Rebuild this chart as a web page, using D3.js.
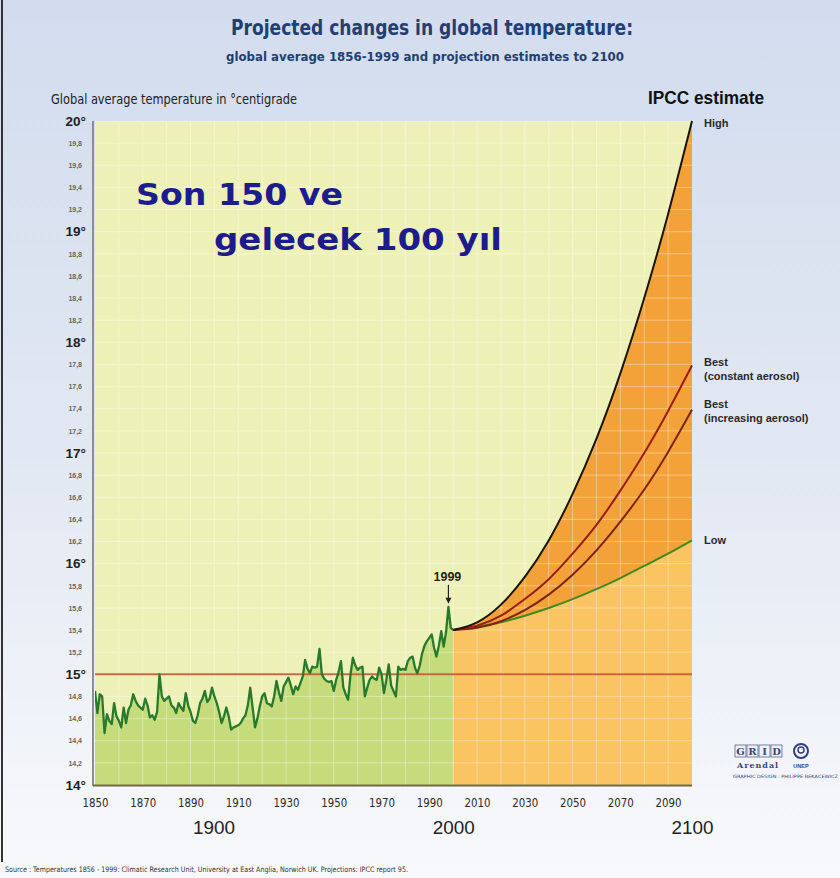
<!DOCTYPE html>
<html><head><meta charset="utf-8">
<script src="https://cdn.jsdelivr.net/npm/d3@7"></script>
<style>html,body{margin:0;padding:0;background:#fff}svg{display:block}</style>
</head><body><div id="chart"></div>
<script>
// ---------- DATA ----------
const histYears = d3.range(1850, 2000);
const histTemps = [
 14.85,14.65,14.82,14.80,14.47,14.64,14.58,14.55,14.74,14.62,
 14.58,14.52,14.70,14.56,14.68,14.72,14.82,14.76,14.72,14.70,
 14.68,14.78,14.72,14.61,14.63,14.59,14.66,15.00,14.80,14.76,
 14.78,14.80,14.72,14.70,14.65,14.74,14.70,14.67,14.83,14.72,
 14.66,14.58,14.56,14.63,14.74,14.78,14.85,14.75,14.78,14.88,
 14.80,14.74,14.66,14.56,14.62,14.70,14.62,14.50,14.52,14.53,
 14.54,14.56,14.60,14.63,14.72,14.88,14.70,14.52,14.60,14.71,
 14.80,14.83,14.74,14.73,14.71,14.80,14.94,14.84,14.76,14.89,
 14.93,14.97,14.90,14.82,14.89,14.86,14.92,14.98,15.13,15.05,
 15.01,15.07,15.06,15.07,15.23,15.00,14.96,14.94,14.93,14.94,
 14.85,14.95,15.02,15.12,14.88,14.82,14.77,15.00,15.15,15.08,
 15.04,15.06,15.07,14.80,14.88,14.95,14.98,14.96,14.95,15.06,
 15.00,14.83,14.95,15.09,14.90,14.85,14.80,15.07,15.04,15.05,
 15.04,15.12,15.15,15.16,15.06,15.01,15.08,15.19,15.26,15.30,
 15.33,15.36,15.24,15.16,15.26,15.39,15.25,15.38,15.61,15.42
];
const projYears          = [2000, 2010, 2020, 2030, 2040, 2050, 2060, 2070, 2080, 2090, 2100];
const projHigh           = [15.40,15.47,15.63,15.88,16.21,16.63,17.13,17.72,18.40,19.16,20.00];
const projBestConstant   = [15.40,15.44,15.53,15.68,15.86,16.09,16.35,16.66,17.00,17.38,17.79];
const projBestIncreasing = [15.40,15.42,15.48,15.58,15.72,15.90,16.12,16.38,16.67,17.01,17.39];
const projLow            = [15.40,15.43,15.47,15.53,15.60,15.68,15.77,15.87,15.98,16.09,16.21];
const baselineTemp = 15;
const peakYear = 1998, peakLabel = "1999";

const xTickYears = [1850,1870,1890,1910,1930,1950,1970,1990,2010,2030,2050,2070,2090];
const xCenturyLabels = [1900, 2000, 2100];
const yMajorTicks = [14, 15, 16, 17, 18, 19, 20];
const yMinorTicks = [14.2,14.4,14.6,14.8,15.2,15.4,15.6,15.8,16.2,16.4,16.6,16.8,
                     17.2,17.4,17.6,17.8,18.2,18.4,18.6,18.8,19.2,19.4,19.6,19.8];
const gridYears = [1860,1870,1880,1890,1900,1910,1920,1930,1940,1950,1960,1970,1980,1990,
                   2000,2010,2020,2030,2040,2050,2060,2070,2080,2090];
const scenarioLabels = [
  {name:"High", lines:["High"]},
  {name:"BestC", lines:["Best","(constant aerosol)"]},
  {name:"BestI", lines:["Best","(increasing aerosol)"]},
  {name:"Low", lines:["Low"]}
];

// ---------- SETUP ----------
const W = 840, H = 878;
const svg = d3.select("#chart").append("svg").attr("width", W).attr("height", H);
const defs = svg.append("defs");
const bg = defs.append("linearGradient").attr("id","bg").attr("x1",0).attr("y1",0).attr("x2",0).attr("y2",1);
bg.append("stop").attr("offset","0%").attr("stop-color","#d2dcee");
bg.append("stop").attr("offset","55%").attr("stop-color","#e3e9f3");
bg.append("stop").attr("offset","100%").attr("stop-color","#f8f9fc");
svg.append("rect").attr("width",W).attr("height",H).attr("fill","url(#bg)");
svg.append("line").attr("x1",2).attr("x2",2).attr("y1",0).attr("y2",862).attr("stroke","#333").attr("stroke-width",2);

const x = d3.scaleLinear().domain([1850, 2100]).range([95, 692]);
const y = d3.scaleLinear().domain([14, 20]).range([785, 121]);

const narrow = "'Liberation Sans Narrow','DejaVu Sans Condensed','Roboto Condensed','Arial Narrow','Liberation Sans',sans-serif";
const sans = "'Liberation Sans','DejaVu Sans',Arial,sans-serif";

defs.append("clipPath").attr("id","plotclip").append("rect")
  .attr("x", x(1850)).attr("y", y(20)).attr("width", x(2100)-x(1850)).attr("height", y(14)-y(20));

const plot = svg.append("g").attr("clip-path","url(#plotclip)");

// background yellow
plot.append("rect").attr("x", x(1850)).attr("y", y(20)).attr("width", x(2100)-x(1850)).attr("height", y(14)-y(20)).attr("fill","#eef1b7");

const hist = histYears.map((yr,i)=>({year:yr, t:histTemps[i]}));
hist.push({year:projYears[0], t:projHigh[0]});

// green area under historical
plot.append("path").datum(hist)
  .attr("d", d3.area().x(d=>x(d.year)).y0(y(14)).y1(d=>y(d.t)))
  .attr("fill","#c6dc7c");

// projections
const curveType = d3.curveNatural;
const mk = arr => projYears.map((yr,i)=>({year:yr, t:arr[i]}));
const band = projYears.map((yr,i)=>({year:yr, lo:projLow[i], hi:projHigh[i]}));
plot.append("path").datum(band)
  .attr("d", d3.area().curve(curveType).x(d=>x(d.year)).y0(y(14)).y1(d=>y(d.lo)))
  .attr("fill","#fbc462");
plot.append("path").datum(band)
  .attr("d", d3.area().curve(curveType).x(d=>x(d.year)).y0(d=>y(d.lo)).y1(d=>y(d.hi)))
  .attr("fill","#f3a23a");

// grid
const grid = plot.append("g").attr("stroke","#ffffff").attr("stroke-opacity",0.35).attr("stroke-width",1);
grid.selectAll("line.v").data(gridYears).join("line")
  .attr("x1",d=>x(d)).attr("x2",d=>x(d)).attr("y1",y(20)).attr("y2",y(14));
grid.selectAll("line.h").data(yMinorTicks.concat(yMajorTicks)).join("line")
  .attr("x1",x(1850)).attr("x2",x(2100)).attr("y1",d=>y(d)).attr("y2",d=>y(d));

// 15 degree line
plot.append("line").attr("x1",x(1850)).attr("x2",x(2100)).attr("y1",y(baselineTemp)).attr("y2",y(baselineTemp))
  .attr("stroke","#c9573b").attr("stroke-width",2).attr("stroke-opacity",0.9);

// projection curves
const lineGen = d3.line().curve(curveType).x(d=>x(d.year)).y(d=>y(d.t));
const curves = [
  {data:projLow, color:"#3f8a1e"},
  {data:projBestIncreasing, color:"#7c2410"},
  {data:projBestConstant, color:"#9a1c14"},
  {data:projHigh, color:"#1a1410"}
];
curves.forEach(c=>{
  svg.append("path").datum(mk(c.data)).attr("d", lineGen)
    .attr("fill","none").attr("stroke",c.color).attr("stroke-width",2);
});

// historical line
plot.append("path").datum(hist)
  .attr("d", d3.line().x(d=>x(d.year)).y(d=>y(d.t)))
  .attr("fill","none").attr("stroke","#277a2b").attr("stroke-width",2.3).attr("stroke-linejoin","round");

// axis frame lines
svg.append("line").attr("x1",x(1850)-2).attr("x2",x(1850)-2).attr("y1",y(20)).attr("y2",y(14)+1)
  .attr("stroke","#8d8f8f").attr("stroke-width",2);
svg.append("line").attr("x1",x(1850)-2).attr("x2",x(2100)).attr("y1",y(14)+0.5).attr("y2",y(14)+0.5)
  .attr("stroke","#6f6a3c").attr("stroke-width",2);

// ---------- AXES ----------
const xAxis = svg.append("g").attr("transform",`translate(0,${y(14)})`)
  .call(d3.axisBottom(x).tickValues(xTickYears).tickFormat(d3.format("d")).tickSize(0).tickPadding(14));
xAxis.select(".domain").remove();
xAxis.selectAll("text").attr("font-family",narrow).attr("font-size",11.5).attr("fill","#2a2a2a")
  .attr("textLength",26).attr("lengthAdjust","spacingAndGlyphs");

const xAxis2 = svg.append("g").attr("transform",`translate(0,${y(14)})`)
  .call(d3.axisBottom(x).tickValues(xCenturyLabels).tickFormat(d3.format("d")).tickSize(0).tickPadding(36));
xAxis2.select(".domain").remove();
xAxis2.selectAll("text").attr("font-family",sans).attr("font-size",19).attr("fill","#222")
  .attr("textLength",42).attr("lengthAdjust","spacingAndGlyphs");
xAxis2.selectAll("text").filter(d=>d===1900).attr("dx", -1);

const yMaj = svg.append("g").attr("transform",`translate(${x(1850)},0)`)
  .call(d3.axisLeft(y).tickValues(yMajorTicks).tickFormat(d=>d+"°").tickSize(0).tickPadding(9));
yMaj.select(".domain").remove();
yMaj.selectAll("text").attr("font-family",sans).attr("font-weight","bold").attr("font-size",13.5).attr("fill","#222");

const yMin = svg.append("g").attr("transform",`translate(${x(1850)},0)`)
  .call(d3.axisLeft(y).tickValues(yMinorTicks).tickFormat(d=>d3.format(".1f")(d).replace(".",",")).tickSize(0).tickPadding(13));
yMin.select(".domain").remove();
yMin.selectAll("text").attr("font-family",sans).attr("font-weight","bold").attr("font-size",7).attr("fill","#666");

// ---------- TITLES ----------
svg.append("text").attr("x",432).attr("y",35).attr("text-anchor","middle")
  .attr("font-family",narrow).attr("font-weight","bold").attr("font-size",21).attr("fill","#233f72")
  .attr("textLength",402).attr("lengthAdjust","spacingAndGlyphs")
  .text("Projected changes in global temperature:");
svg.append("text").attr("x",425).attr("y",61).attr("text-anchor","middle")
  .attr("font-family",narrow).attr("font-weight","bold").attr("font-size",13).attr("fill","#233f72")
  .attr("textLength",398).attr("lengthAdjust","spacingAndGlyphs")
  .text("global average 1856-1999 and projection estimates to 2100");
svg.append("text").attr("x",51).attr("y",104)
  .attr("font-family",narrow).attr("font-size",13.5).attr("fill","#222")
  .attr("textLength",246).attr("lengthAdjust","spacingAndGlyphs")
  .text("Global average temperature in °centigrade");
svg.append("text").attr("x",648).attr("y",104)
  .attr("font-family",sans).attr("font-weight","bold").attr("font-size",19).attr("fill","#111")
  .attr("textLength",116).attr("lengthAdjust","spacingAndGlyphs")
  .text("IPCC estimate");

// Turkish annotation
const ann = svg.append("g").attr("font-family","'DejaVu Sans',sans-serif").attr("font-weight","bold").attr("fill","#1d1c8c");
ann.append("text").attr("x",136).attr("y",205).attr("font-size",31).attr("textLength",207).attr("lengthAdjust","spacingAndGlyphs").text("Son 150 ve");
ann.append("text").attr("x",214).attr("y",250).attr("font-size",31).attr("textLength",288).attr("lengthAdjust","spacingAndGlyphs").text("gelecek 100 yıl");

// scenario labels
const lab = svg.append("g").attr("font-family",sans).attr("font-weight","bold").attr("font-size",11).attr("fill","#2a2a2a");
const labelY = {High:[127], BestC:[366,380], BestI:[408,422], Low:[544]};
scenarioLabels.forEach(s=>{
  s.lines.forEach((ln,i)=>{
    lab.append("text").attr("x",704).attr("y",labelY[s.name][i]).text(ln);
  });
});

// 1999 marker
const peakT = histTemps[histYears.indexOf(peakYear)];
svg.append("text").attr("x",x(peakYear)-1).attr("y",y(peakT)-26).attr("text-anchor","middle")
  .attr("font-family",sans).attr("font-weight","bold").attr("font-size",12.5).attr("fill","#222").text(peakLabel);
svg.append("line").attr("x1",x(peakYear)).attr("x2",x(peakYear)).attr("y1",y(peakT)-22).attr("y2",y(peakT)-8)
  .attr("stroke","#222").attr("stroke-width",1.2);
svg.append("path").attr("d",`M${x(peakYear)-3},${y(peakT)-9} L${x(peakYear)+3},${y(peakT)-9} L${x(peakYear)},${y(peakT)-3} Z`).attr("fill","#222");

// logo
const logo = svg.append("g");
["G","R","I","D"].forEach((c,i)=>{
  logo.append("rect").attr("x",735+i*12).attr("y",745).attr("width",11).attr("height",12).attr("fill","#eef0f8").attr("stroke","#5a6690").attr("stroke-width",0.8);
  logo.append("text").attr("x",740.5+i*12).attr("y",755).attr("text-anchor","middle").attr("font-family","'DejaVu Serif',serif").attr("font-weight","bold").attr("font-size",10).attr("fill","#3a4678").text(c);
});
logo.append("text").attr("x",737).attr("y",768).attr("font-family","'DejaVu Serif',serif").attr("font-weight","bold").attr("font-size",8).attr("fill","#3a4678").attr("letter-spacing",1).text("Arendal");
logo.append("circle").attr("cx",801).attr("cy",751).attr("r",7).attr("fill","#f4f6fb").attr("stroke","#2e3f82").attr("stroke-width",2);
logo.append("circle").attr("cx",801).attr("cy",750).attr("r",3).attr("fill","none").attr("stroke","#2e3f82").attr("stroke-width",1.5);
logo.append("text").attr("x",801).attr("y",768).attr("text-anchor","middle").attr("font-family",sans).attr("font-weight","bold").attr("font-size",5.5).attr("fill","#3a4678").text("UNEP");
logo.append("text").attr("x",733).attr("y",778).attr("font-family",narrow).attr("font-size",4.5).attr("fill","#3a4678")
  .attr("textLength",105).attr("lengthAdjust","spacingAndGlyphs").text("GRAPHIC DESIGN : PHILIPPE REKACEWICZ");

// source
svg.append("text").attr("x",5).attr("y",872).attr("font-family",narrow).attr("font-size",7.5).attr("fill","#333")
  .attr("textLength",403).attr("lengthAdjust","spacingAndGlyphs")
  .text("Source : Temperatures 1856 - 1999: Climatic Research Unit, University at East Anglia, Norwich UK. Projections: IPCC report 95.");
</script></body></html>
